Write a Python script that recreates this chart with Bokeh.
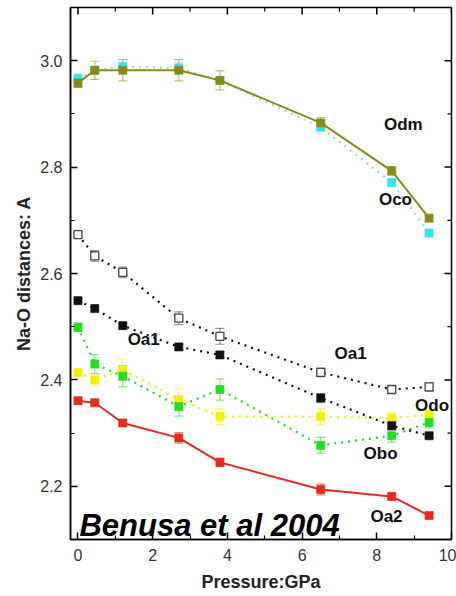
import math
from bokeh.plotting import figure
from bokeh.models import (ColumnDataSource, Whisker, TeeHead, LinearAxis, FixedTicker,
                          PrintfTickFormatter, Range1d, Label)
from bokeh.embed import file_html
from bokeh.resources import INLINE

# ---------------- data ----------------
pressure = [0.0, 0.45, 1.2, 2.7, 3.8, 6.5, 8.4, 9.4]

odm = [2.958, 2.982, 2.982, 2.982, 2.963, 2.883, 2.793, 2.704]
odm_err = [0.008, 0.017, 0.020, 0.020, 0.018, 0.010, 0.008, 0.006]

oco = [2.967, 2.982, 2.989, 2.986, 2.963, 2.875, 2.771, 2.676]
oco_err = [0.004, 0.004, 0.008, 0.010, 0.004, 0.004, 0.004, 0.003]

oa1_open = [2.673, 2.633, 2.602, 2.516, 2.482, 2.414, 2.382, 2.387]
oa1_open_err = [0.004, 0.010, 0.010, 0.012, 0.015, 0.008, 0.006, 0.008]

oa1_fill = [2.549, 2.534, 2.502, 2.462, 2.447, 2.366, 2.314, 2.295]
oa1_fill_err = [0.003, 0.004, 0.004, 0.005, 0.006, 0.008, 0.008, 0.003]

obo = [2.499, 2.430, 2.407, 2.350, 2.382, 2.277, 2.295, 2.320]
obo_err = [0.008, 0.018, 0.020, 0.018, 0.020, 0.015, 0.012, 0.010]

odo = [2.414, 2.400, 2.419, 2.363, 2.331, 2.331, 2.328, 2.335]
odo_err = [0.005, 0.010, 0.020, 0.020, 0.015, 0.015, 0.010, 0.008]

oa2 = [2.361, 2.357, 2.319, 2.291, 2.245, 2.194, 2.181, 2.145]
oa2_err = [0.005, 0.005, 0.005, 0.010, 0.008, 0.010, 0.006, 0.004]

x_ticks = [0, 2, 4, 6, 8, 10]
x_minor = [1, 3, 5, 7, 9]
y_ticks = [2.2, 2.4, 2.6, 2.8, 3.0]
y_minor = [2.1, 2.3, 2.5, 2.7, 2.9, 3.1]

label_texts = ["Odm", "Oco", "Oa1", "Oa1", "Odo", "Obo", "Oa2"]
label_x = [8.71, 8.50, 1.76, 7.30, 9.48, 8.10, 8.26]
label_y = [2.880, 2.739, 2.476, 2.449, 2.352, 2.261, 2.143]

OLIVE = "#8a8a18"
CYAN = "#30e6ee"
BLACK = "#111111"
GREEN = "#22dd22"
YELLOW = "#f2f200"
RED = "#e62a1e"

FONT = "Liberation Sans"
X0, X1 = -0.2, 10.0
Y0, Y1 = 2.1, 3.1

p = figure(width=456, height=596, output_backend="svg", toolbar_location=None,
           x_range=Range1d(X0, X1), y_range=Range1d(Y0, Y1),
           min_border_left=70, min_border_right=5, min_border_top=7, min_border_bottom=57,
           x_axis_location=None, y_axis_location=None)
p.xgrid.visible = False
p.ygrid.visible = False
p.outline_line_color = "black"
p.outline_line_width = 1.5
p.background_fill_color = "white"
p.border_fill_color = "white"


def style_axis(ax, ticks, minor):
    ax.ticker = FixedTicker(ticks=ticks, minor_ticks=minor)
    ax.axis_line_color = "black"
    ax.axis_line_width = 1.5
    ax.major_tick_line_color = "black"
    ax.minor_tick_line_color = "black"
    ax.major_tick_line_width = 1.5
    ax.minor_tick_line_width = 1.2
    ax.major_tick_in = 7
    ax.major_tick_out = 0
    ax.minor_tick_in = 4
    ax.minor_tick_out = 0
    ax.major_label_text_font = FONT
    ax.major_label_text_font_size = "16px"
    ax.major_label_text_color = "#333333"


xb = LinearAxis(axis_label="Pressure:GPa")
style_axis(xb, x_ticks, x_minor)
xb.major_label_standoff = 9
xb.axis_label_text_font = FONT
xb.axis_label_text_font_style = "bold"
xb.axis_label_text_font_size = "18px"
xb.axis_label_text_color = "#222222"
xb.axis_label_standoff = 8
p.add_layout(xb, "below")

yl = LinearAxis(axis_label="Na-O distances: A")
style_axis(yl, y_ticks, y_minor)
yl.formatter = PrintfTickFormatter(format="%.1f")
yl.major_label_standoff = 8
yl.axis_label_text_font = FONT
yl.axis_label_text_font_style = "bold"
yl.axis_label_text_font_size = "18px"
yl.axis_label_text_color = "#222222"
yl.axis_label_standoff = 3
p.add_layout(yl, "left")

# inward ticks on the top and right frame edges (screen-length rays)
p.ray(x=x_ticks, y=[Y1] * len(x_ticks), length=7, length_units="screen",
      angle=-math.pi / 2, line_color="black", line_width=1.5)
p.ray(x=x_minor, y=[Y1] * len(x_minor), length=4, length_units="screen",
      angle=-math.pi / 2, line_color="black", line_width=1.2)
p.ray(x=[X1] * len(y_ticks), y=y_ticks, length=7, length_units="screen",
      angle=math.pi, line_color="black", line_width=1.5)
p.ray(x=[X1] * len(y_minor), y=y_minor, length=4, length_units="screen",
      angle=math.pi, line_color="black", line_width=1.2)


def series(vals, errs, color, dash, fill=True, line_color=None, whisk_alpha=0.55):
    src = ColumnDataSource(dict(x=pressure, y=vals,
                                lo=[v - e for v, e in zip(vals, errs)],
                                hi=[v + e for v, e in zip(vals, errs)]))
    lc = line_color or color
    p.line("x", "y", source=src, line_color=lc, line_width=2 if dash == "solid" else 2.2,
           line_dash=dash)
    w = Whisker(source=src, base="x", lower="lo", upper="hi", line_color=color,
                line_alpha=whisk_alpha, line_width=1.2,
                upper_head=TeeHead(size=9, line_color=color, line_alpha=whisk_alpha, line_width=1.2),
                lower_head=TeeHead(size=9, line_color=color, line_alpha=whisk_alpha, line_width=1.2))
    p.add_layout(w)
    if fill:
        p.scatter("x", "y", source=src, marker="square", size=8, fill_color=color,
                  line_color=color, line_alpha=0.7)
    else:
        p.scatter("x", "y", source=src, marker="square", size=8, fill_color="white",
                  line_color=color, line_width=1.3)


series(oa2, oa2_err, RED, "solid")
series(odo, odo_err, YELLOW, "2 5")
series(obo, obo_err, GREEN, "2 5")
series(oa1_fill, oa1_fill_err, BLACK, "2 5")
series(oa1_open, oa1_open_err, "#444444", "2 5", fill=False, line_color=BLACK)
series(oco, oco_err, CYAN, "2 5", line_color="#9cd6ea")
series(odm, odm_err, OLIVE, "solid")

for t, lx, ly in zip(label_texts, label_x, label_y):
    p.add_layout(Label(x=lx, y=ly, text=t, text_align="center", text_baseline="middle",
                       text_font=FONT, text_font_style="bold", text_font_size="17px",
                       text_color="#111111"))

p.add_layout(Label(x=0.04, y=2.127, text="Benusa et al 2004", text_align="left",
                   text_baseline="middle", text_font=FONT, text_font_style="bold italic",
                   text_font_size="31px", text_color="black"))

open("out.html", "w").write(file_html(p, INLINE))
